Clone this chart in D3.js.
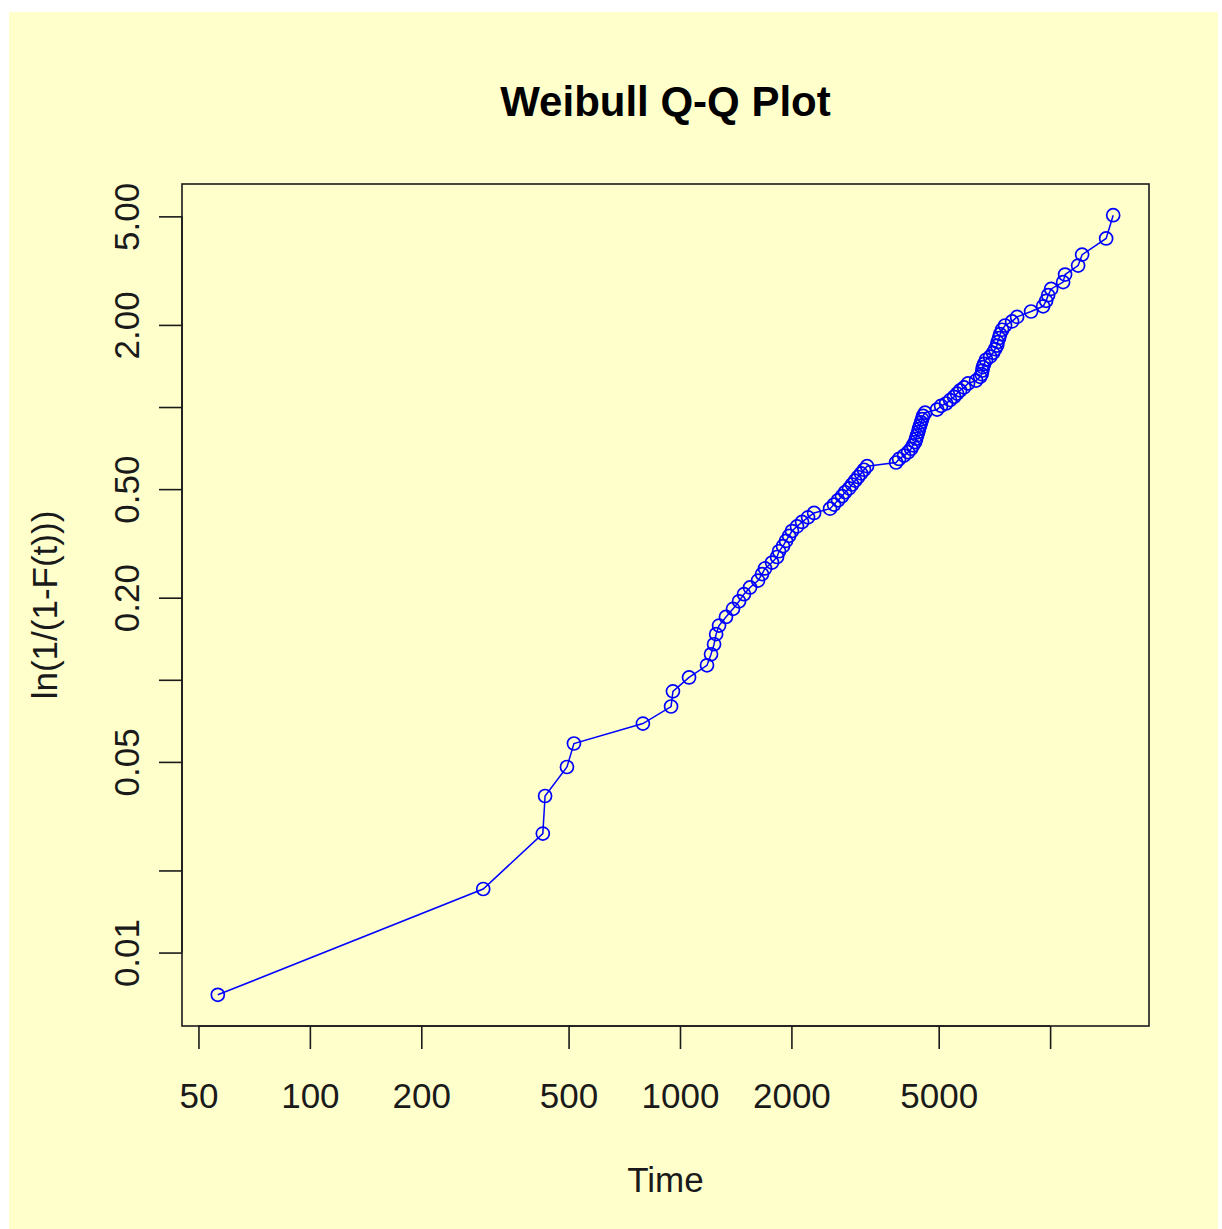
<!DOCTYPE html>
<html>
<head>
<meta charset="utf-8">
<script src="https://cdn.jsdelivr.net/npm/d3@7"></script>
<style>
  html, body { margin: 0; padding: 0; background: #ffffff; }
  svg { display: block; }
  text { font-family: "Liberation Sans", Arial, Helvetica, sans-serif; }
</style>
</head>
<body>
<svg id="chart" width="1222" height="1229"></svg>
<script>
// Failure times (sorted) and the matching cumulative-hazard values ln(1/(1-F(t)))
const times = [
  56.4, 294, 426, 432, 495, 517, 794, 946, 957, 1058,
  1183, 1213, 1236, 1252, 1275, 1331, 1391, 1444, 1489, 1546,
  1625, 1666, 1697, 1773, 1829, 1852, 1898, 1934, 1971, 2007,
  2071, 2137, 2218, 2303, 2543, 2607, 2673, 2740, 2792, 2863,
  2917, 2972, 3028, 3085, 3142, 3202, 3836, 3908, 4031, 4133,
  4211, 4263, 4317, 4344, 4371, 4398, 4425, 4453, 4481, 4509,
  4537, 4594, 4950, 5075, 5235, 5367, 5502, 5606, 5712, 5856,
  6001, 6310, 6469, 6530, 6560, 6580, 6632, 6714, 6883, 7012,
  7101, 7190, 7212, 7280, 7325, 7417, 7556, 7893, 8143, 8883,
  9574, 9754, 9876, 10063, 10842, 10976, 11902, 12204, 14170, 14805
];
const hazard = [
  0.00700, 0.0171, 0.0273, 0.0375, 0.0479, 0.0584, 0.0691, 0.0798, 0.0907, 0.102,
  0.113, 0.124, 0.135, 0.147, 0.158, 0.170, 0.182, 0.194, 0.206, 0.218,
  0.231, 0.244, 0.256, 0.269, 0.282, 0.296, 0.309, 0.323, 0.337, 0.351,
  0.365, 0.379, 0.394, 0.409, 0.424, 0.439, 0.455, 0.471, 0.487, 0.503,
  0.520, 0.537, 0.554, 0.571, 0.589, 0.607, 0.626, 0.645, 0.664, 0.683,
  0.703, 0.724, 0.744, 0.765, 0.787, 0.809, 0.832, 0.855, 0.879, 0.903,
  0.928, 0.953, 0.979, 1.01, 1.03, 1.06, 1.09, 1.12, 1.15, 1.18,
  1.22, 1.25, 1.29, 1.32, 1.36, 1.40, 1.44, 1.49, 1.53, 1.58,
  1.63, 1.68, 1.73, 1.79, 1.85, 1.92, 1.99, 2.06, 2.14, 2.24,
  2.34, 2.45, 2.57, 2.71, 2.87, 3.06, 3.30, 3.62, 4.15, 5.05
];

const xTicks = [50, 100, 200, 500, 1000, 2000, 5000, 10000];
const xTickLabels = ["50", "100", "200", "500", "1000", "2000", "5000", ""];
const yTicks = [0.01, 0.02, 0.05, 0.1, 0.2, 0.5, 1, 2, 5];
const yTickLabels = ["0.01", "", "0.05", "", "0.20", "0.50", "", "2.00", "5.00"];

const titleText = "Weibull Q-Q Plot";
const xTitle = "Time";
const yTitle = "ln(1/(1-F(t)))";

const points = times.map((t, i) => ({ t: t, h: hazard[i] }));

const svg = d3.select("#chart");

// Panel background
svg.append("rect")
  .attr("x", 9).attr("y", 12)
  .attr("width", 1209).attr("height", 1217)
  .attr("fill", "#ffffcc");

const plot = { left: 182, right: 1149, top: 184, bottom: 1026 };

// Log scales with a 4% pad on each side of the data range
function paddedLogDomain(values) {
  const lo = Math.log10(d3.min(values));
  const hi = Math.log10(d3.max(values));
  const pad = (hi - lo) * 0.04;
  return [Math.pow(10, lo - pad), Math.pow(10, hi + pad)];
}

const x = d3.scaleLog()
  .domain(paddedLogDomain(times))
  .range([plot.left, plot.right]);

const y = d3.scaleLog()
  .domain(paddedLogDomain(hazard))
  .range([plot.bottom, plot.top]);

const ink = "#1a1a1a";
const labelSize = 35;

// Connecting line
svg.append("path")
  .datum(points)
  .attr("fill", "none")
  .attr("stroke", "#0000ff")
  .attr("stroke-width", 1.5)
  .attr("d", d3.line().x(d => x(d.t)).y(d => y(d.h)));

// Open circles
svg.append("g")
  .selectAll("circle")
  .data(points)
  .join("circle")
  .attr("cx", d => x(d.t))
  .attr("cy", d => y(d.h))
  .attr("r", 6.5)
  .attr("fill", "none")
  .attr("stroke", "#0000ff")
  .attr("stroke-width", 1.7);

// Plot frame
svg.append("rect")
  .attr("x", plot.left).attr("y", plot.top)
  .attr("width", plot.right - plot.left)
  .attr("height", plot.bottom - plot.top)
  .attr("fill", "none")
  .attr("stroke", ink)
  .attr("stroke-width", 1.6);

// X axis
const xAxis = d3.axisBottom(x)
  .tickValues(xTicks)
  .tickFormat((d, i) => xTickLabels[i])
  .tickSizeInner(23)
  .tickSizeOuter(0)
  .tickPadding(34);

const gx = svg.append("g")
  .attr("transform", `translate(0,${plot.bottom})`)
  .call(xAxis);
gx.select(".domain")
  .attr("d", `M${x(xTicks[0])},0H${x(xTicks[xTicks.length - 1])}`)
  .attr("stroke", ink).attr("stroke-width", 1.6);
gx.selectAll(".tick line").attr("stroke", ink).attr("stroke-width", 1.6);
gx.selectAll(".tick text")
  .attr("font-size", labelSize)
  .attr("fill", ink)
  .attr("font-family", "Liberation Sans, Arial, sans-serif");

// Y axis
const yAxis = d3.axisLeft(y)
  .tickValues(yTicks)
  .tickFormat((d, i) => yTickLabels[i])
  .tickSizeInner(23)
  .tickSizeOuter(0)
  .tickPadding(20);

const gy = svg.append("g")
  .attr("transform", `translate(${plot.left},0)`)
  .call(yAxis);
gy.select(".domain")
  .attr("d", `M0,${y(yTicks[0])}V${y(yTicks[yTicks.length - 1])}`)
  .attr("stroke", ink).attr("stroke-width", 1.6);
gy.selectAll(".tick line").attr("stroke", ink).attr("stroke-width", 1.6);
gy.selectAll(".tick text")
  .attr("font-size", labelSize)
  .attr("fill", ink)
  .attr("font-family", "Liberation Sans, Arial, sans-serif")
  .attr("x", null).attr("dy", null)
  .attr("text-anchor", "middle")
  .attr("transform", "translate(-43,0) rotate(-90)");

// Title
svg.append("text")
  .attr("x", (plot.left + plot.right) / 2)
  .attr("y", 116)
  .attr("text-anchor", "middle")
  .attr("font-size", 42)
  .attr("font-weight", "bold")
  .attr("fill", "#000")
  .text(titleText);

// Axis titles
svg.append("text")
  .attr("x", (plot.left + plot.right) / 2)
  .attr("y", 1192)
  .attr("text-anchor", "middle")
  .attr("font-size", labelSize)
  .attr("fill", ink)
  .text(xTitle);

svg.append("text")
  .attr("transform", `translate(57,${(plot.top + plot.bottom) / 2}) rotate(-90)`)
  .attr("text-anchor", "middle")
  .attr("font-size", labelSize)
  .attr("fill", ink)
  .text(yTitle);
</script>
</body>
</html>
